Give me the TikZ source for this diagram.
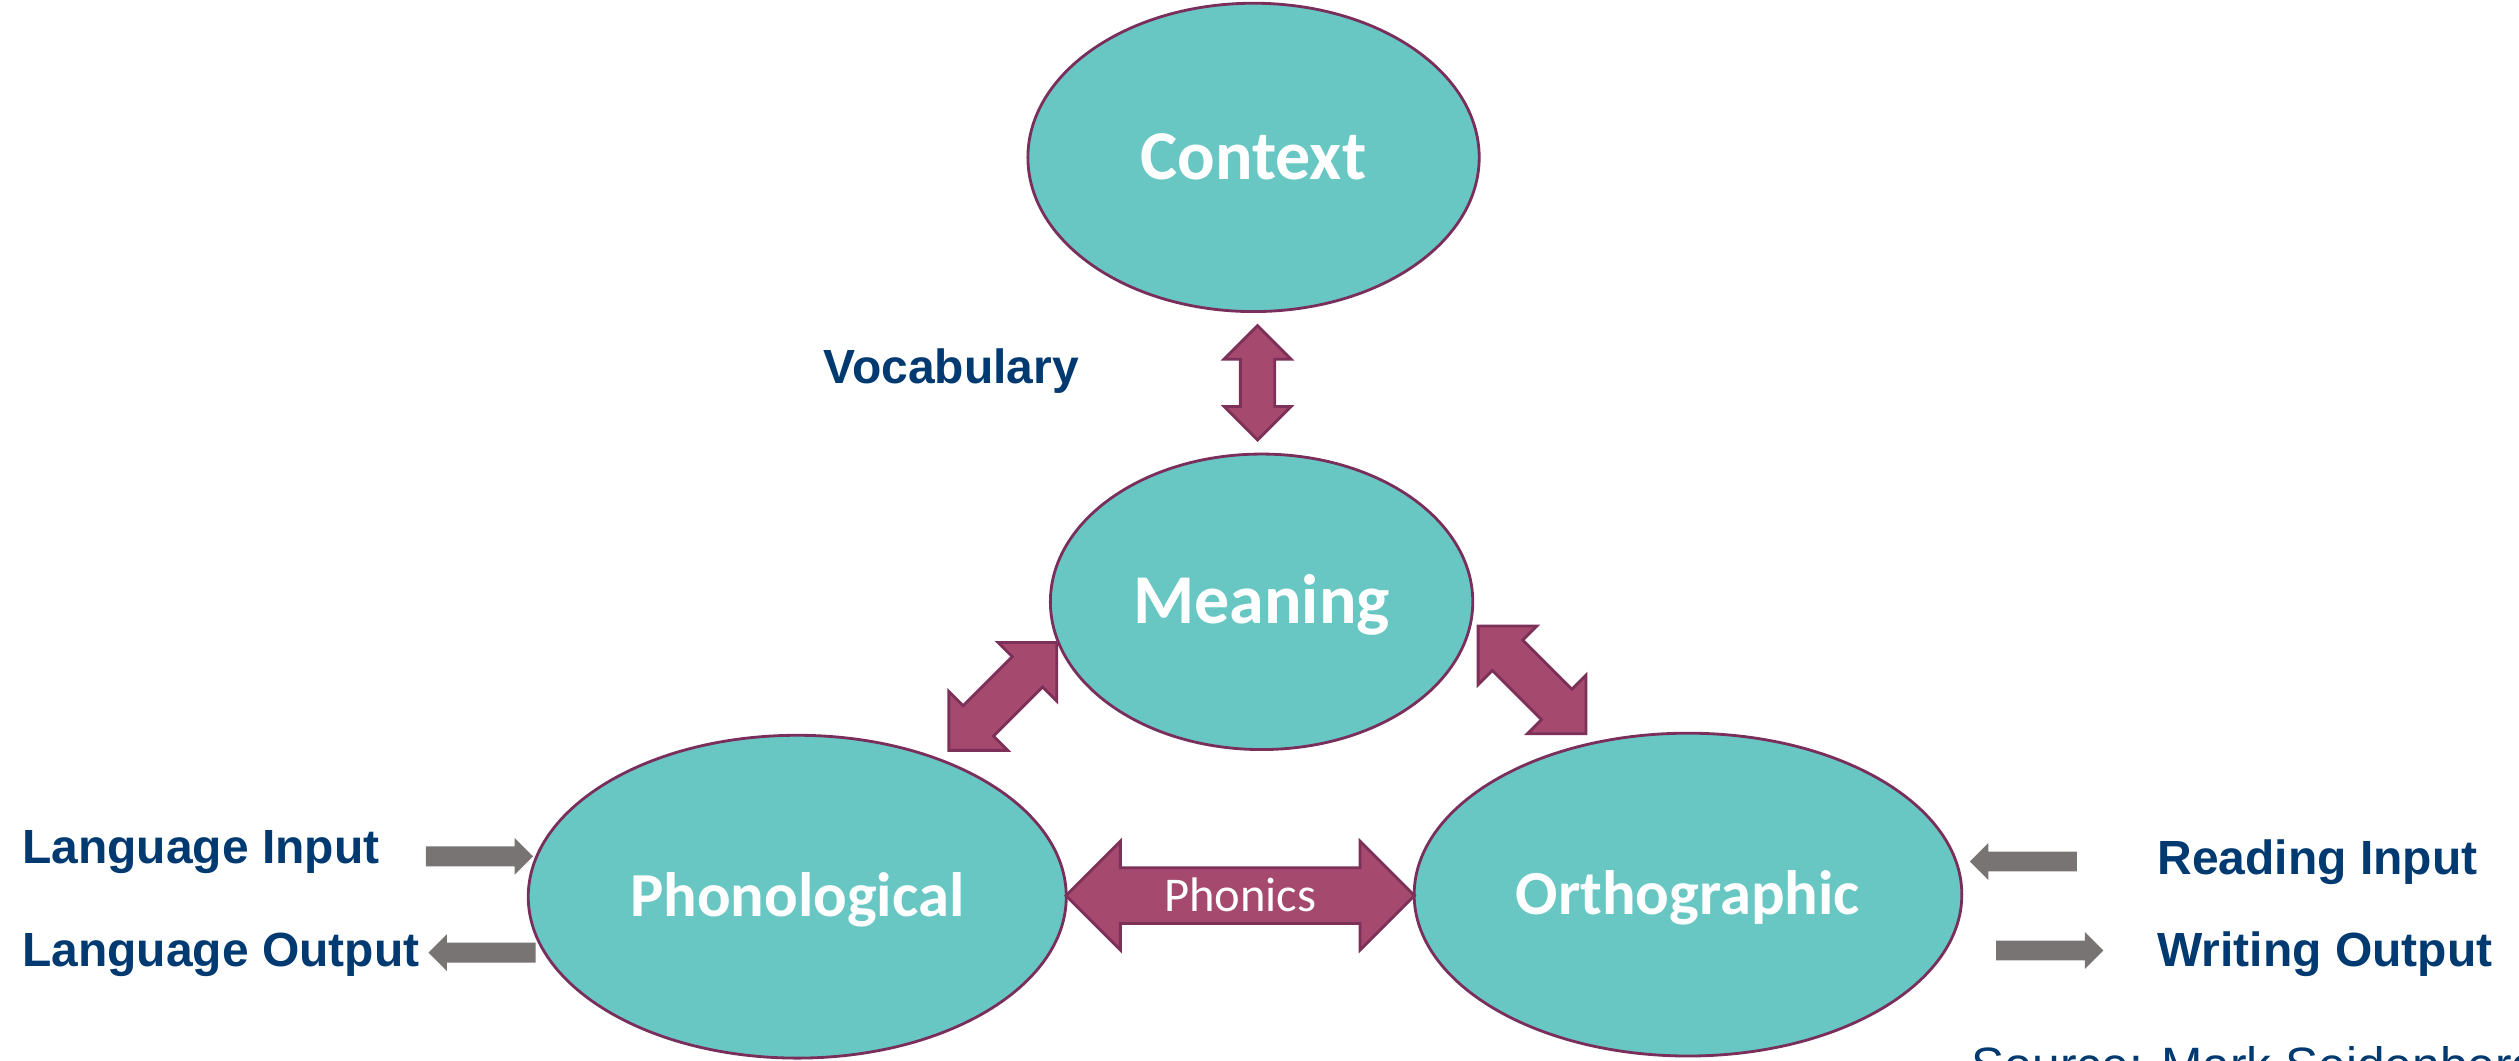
\documentclass[tikz,border=0pt]{standalone}
\usepackage{fontspec}
\setmainfont{Liberation Sans}
\newfontfamily\calibfont{Carlito}
\usetikzlibrary{shapes.geometric, shapes.arrows, calc}

\definecolor{bubblefill}{HTML}{69C7C3}
\definecolor{bubbleline}{HTML}{7A2E5C}
\definecolor{linkfill}{HTML}{A5496F}
\definecolor{linkline}{HTML}{7D3158}
\definecolor{labelblue}{HTML}{003A70}
\definecolor{flowgray}{HTML}{787473}

\begin{document}
\begin{tikzpicture}[
		bubble/.style = {ellipse, draw = bubbleline, fill = bubblefill, line width = 0.5pt, inner sep = 0pt, text = white, font = \calibfont\bfseries\fontsize{12.4}{14}\selectfont, text height = 0.27cm, text depth = 0pt},
		smallbubble/.style = {bubble, font = \calibfont\bfseries\fontsize{11.1}{13}\selectfont, text height = 0.249cm},
		linkarrow/.style = {double arrow, draw = linkline, fill = linkfill, line width = 0.5pt, inner xsep = 0pt, double arrow tip angle = 90},
		flowarrow/.style = {single arrow, draw = none, fill = flowgray, inner xsep = 0pt, inner ysep = 0.055cm, single arrow head extend = 0.053cm, single arrow tip angle = 90, minimum height = 0.667cm},
		sidetext/.style = {anchor = base west, inner sep = 0pt, text = labelblue, font = \bfseries\fontsize{8.5}{10}\selectfont}
	]
	\useasboundingbox (0, 0) rectangle (15.684, 6.6);

	% Draw the bubbles
	\node[bubble, minimum width = 2.81cm, minimum height = 1.92cm] (ctx) at (7.805, 5.62) {Context};
	\node[bubble, minimum width = 2.63cm, minimum height = 1.84cm] (mean) at (7.855, 2.853) {Meaning};
	\node[smallbubble, minimum width = 3.35cm, minimum height = 2.01cm] (phon) at (4.964, 1.017) {Phonological};
	\node[smallbubble, minimum width = 3.41cm, minimum height = 2.01cm] (orth) at (10.51, 1.03) {Orthographic};

	% Draw the two-way links between the bubbles
	\node[linkarrow, rotate = 90, minimum height = 0.712cm, inner ysep = 0.0985cm, double arrow head extend = 0.1015cm] (vocab) at ($(ctx.south)!0.5!(mean.north)$) {};
	\node[linkarrow, rotate = 45, minimum height = 0.95cm, inner ysep = 0.125cm, double arrow head extend = 0.125cm] (phonmean) at (6.244, 2.264) {};
	\node[linkarrow, rotate = -45, minimum height = 0.95cm, inner ysep = 0.125cm, double arrow head extend = 0.125cm] (orthmean) at (9.539, 2.367) {};
	\node[linkarrow, minimum height = 2.17cm, inner ysep = 0pt, text height = 0.261cm, text depth = 0.069cm, double arrow head extend = 0.165cm, text = white, font = \calibfont\fontsize{8.6}{10}\selectfont] (phonics) at ($(phon.east)!0.5!(orth.west)$) {Phonics};

	% Draw the input and output arrows
	\node[flowarrow] (langin) at (2.954, 1.268) {};
	\node[flowarrow, rotate = 180] (langout) at (3.032, 0.669) {};
	\node[flowarrow, rotate = 180] (readin) at (12.629, 1.236) {};
	\node[flowarrow] (writeout) at (12.731, 0.682) {};

	% Draw the labels
	\node[sidetext] (vocablabel) at (5.121, 4.214) {Vocabulary};
	\node[sidetext] (langinlabel) at (0.131, 1.222) {Language Input};
	\node[sidetext] (langoutlabel) at (0.131, 0.583) {Language Output};
	\node[sidetext] (readinlabel) at (13.426, 1.153) {Reading Input};
	\node[sidetext] (writeoutlabel) at (13.426, 0.583) {Writing Output};
	\node[sidetext, font = \fontsize{8.8}{10}\selectfont] (source) at (12.27, -0.142) {Source: Mark Seidenberg};

\end{tikzpicture}
\end{document}
